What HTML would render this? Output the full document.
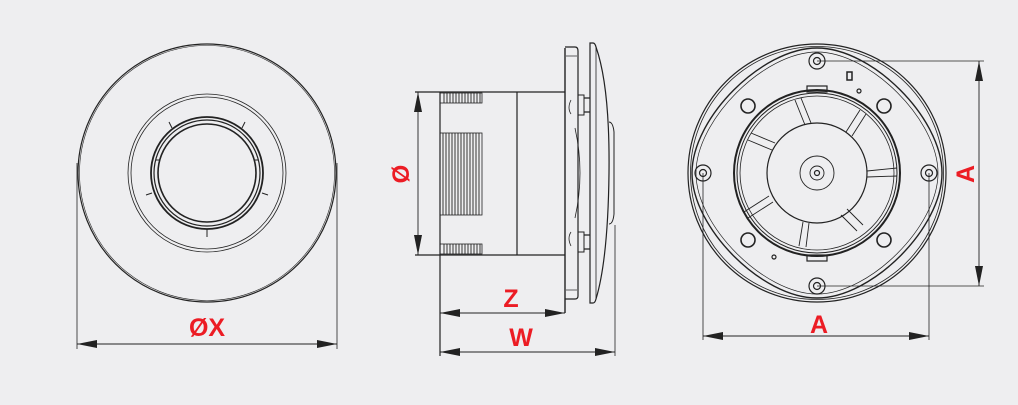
<!DOCTYPE html>
<html><head><meta charset="utf-8"><style>
html,body{margin:0;padding:0;background:#eeeef0;}
svg{display:block}
text{font-family:"Liberation Sans",Arial,sans-serif;font-weight:bold;fill:#ec1c24;}
</style></head><body>
<svg width="1018" height="405" viewBox="0 0 1018 405" xmlns="http://www.w3.org/2000/svg">
<defs>
<marker id="ar" viewBox="0 0 20 8" refX="20" refY="4" markerWidth="20" markerHeight="8" markerUnits="userSpaceOnUse" orient="auto-start-reverse"><path d="M0,0 L20,4 L0,8 Z" fill="#222"/></marker>
</defs>
<rect width="1018" height="405" fill="#eeeef0"/>
<g fill="none" stroke="#222" stroke-width="1.2">
<!-- View 1 -->
<circle cx="207" cy="173" r="129"/>
<circle cx="207" cy="173" r="127.5" stroke-width="0.6"/>
<circle cx="207" cy="173" r="79" stroke-width="0.8"/>
<circle cx="207" cy="173" r="76" stroke-width="0.8"/>
<circle cx="207" cy="173" r="56" stroke-width="1.8"/>
<circle cx="207" cy="173" r="53"/>
<circle cx="207" cy="173" r="49" stroke-width="1.6"/>
<path d="M172,128 l-3,-6 M242,128 l3,-6 M152,193 l-6,2 M262,193 l6,2 M207,229 v8 M160,160 h-4 M254,160 h4" stroke-width="1"/>
<line x1="77" y1="163" x2="77" y2="349" stroke-width="0.8"/>
<line x1="337" y1="163" x2="337" y2="349" stroke-width="0.8"/>
<line x1="77" y1="344" x2="337" y2="344" marker-start="url(#ar)" marker-end="url(#ar)" stroke-width="0.9"/>

<!-- View 2 -->
<line x1="415" y1="92" x2="565" y2="92"/>
<line x1="415" y1="255" x2="565" y2="255"/>
<line x1="418" y1="92" x2="418" y2="255" marker-start="url(#ar)" marker-end="url(#ar)" stroke-width="0.9"/>
<line x1="440" y1="92" x2="440" y2="356"/>
<line x1="517" y1="92" x2="517" y2="255"/>
<rect x="440" y="93" width="42" height="10" stroke-width="0.8"/>
<rect x="440" y="133" width="42" height="82" stroke-width="0.8"/>
<rect x="440" y="244" width="42" height="10" stroke-width="0.8"/>
<g stroke-width="0.9">
<path d="M444,93v10M447,93v10M450,93v10M453,93v10M456,93v10M459,93v10M462,93v10M465,93v10M468,93v10M471,93v10M474,93v10M477,93v10M480,93v10"/>
<path d="M443,133v82M446,133v82M449,133v82M452,133v82M455,133v82M458,133v82M461,133v82M464,133v82M467,133v82M470,133v82M473,133v82M476,133v82M479,133v82"/>
<path d="M444,244v10M447,244v10M450,244v10M453,244v10M456,244v10M459,244v10M462,244v10M465,244v10M468,244v10M471,244v10M474,244v10M477,244v10M480,244v10"/>
</g>
<line x1="565" y1="48" x2="565" y2="313" stroke-width="1.4"/>
<path d="M565,47 h10 q3,0 3,4 v245 q0,3 -3,3 h-10" />
<line x1="566" y1="56" x2="577" y2="56" stroke-width="0.7"/>
<line x1="566" y1="290" x2="577" y2="290" stroke-width="0.7"/>
<path d="M571,100 q-4,8 0,14 M571,246 q-4,-8 0,-14" stroke-width="0.8"/>
<path d="M578,95 h6 v20 h-6 M578,232 h6 v20 h-6" stroke-width="1"/>
<path d="M584,98 h6 M584,112 h6 M584,235 h6 M584,249 h6"/>
<path d="M575,128 q10,45 0,90" stroke-width="0.8"/>
<path d="M590,43 h3 q2,0 3,4 q14,40 13,126 q-1,86 -13,126 q-1,4 -3,4 h-3 z"/>
<line x1="596" y1="47" x2="596" y2="299" stroke-width="0.8"/>
<path d="M609,122 q4,0 5,10 v82 q-1,10 -5,10" stroke-width="1"/>
<line x1="615" y1="225" x2="615" y2="356" stroke-width="0.8"/>
<line x1="440" y1="313" x2="565" y2="313" marker-start="url(#ar)" marker-end="url(#ar)" stroke-width="0.9"/>
<line x1="440" y1="352" x2="615" y2="352" marker-start="url(#ar)" marker-end="url(#ar)" stroke-width="0.9"/>

<!-- View 3 -->
<circle cx="817" cy="173" r="129"/>
<circle cx="817" cy="173" r="126.5" stroke-width="0.8"/>
<path d="M817,48 C872,48 942,118 942,173 C942,228 872,298 817,298 C762,298 692,228 692,173 C692,118 762,48 817,48 Z" stroke-width="1.4"/>
<path d="M817,52 C870,52 938,120 938,173 C938,226 870,294 817,294 C764,294 696,226 696,173 C696,120 764,52 817,52 Z" stroke-width="0.7"/>
<circle cx="817" cy="61" r="8"/><circle cx="817" cy="61" r="3.5"/>
<circle cx="817" cy="286" r="8"/><circle cx="817" cy="286" r="3.5"/>
<circle cx="703" cy="173" r="8"/><circle cx="703" cy="173" r="3.5"/>
<circle cx="929" cy="173" r="8"/><circle cx="929" cy="173" r="3.5"/>
<g stroke-width="1.6">
<circle cx="748" cy="106" r="7"/><circle cx="884" cy="106" r="7"/>
<circle cx="748" cy="240" r="7"/><circle cx="884" cy="240" r="7"/>
</g>
<circle cx="817" cy="173" r="83" stroke-width="2"/>
<circle cx="817" cy="173" r="80" stroke-width="1"/>
<circle cx="817" cy="173" r="77" stroke-width="0.8"/>
<circle cx="817" cy="173" r="50"/>
<circle cx="817" cy="173" r="17" stroke-width="0.9"/>
<circle cx="817" cy="173" r="7" stroke-width="0.9"/>
<circle cx="817" cy="173" r="2.5"/>
<rect x="807" y="86" width="20" height="6"/>
<rect x="807" y="255" width="20" height="6"/>
<rect x="847" y="72" width="5" height="8" stroke-width="1.5"/>
<circle cx="859" cy="91" r="2"/><circle cx="774" cy="257" r="2"/>
<g stroke-width="0.9">
<path d="M795,100 l10,25 M801,98 l10,25"/>
<path d="M860,110 l-14,22 M866,114 l-14,22"/>
<path d="M897,168 l-30,3 M897,176 l-30,1"/>
<path d="M863,225 l-16,-16 M857,231 l-16,-16"/>
<path d="M799,246 l4,-24 M806,247 l3,-24"/>
<path d="M748,218 l25,-16 M744,212 l25,-16"/>
<path d="M748,140 l24,10 M751,133 l24,10"/>
</g>
<line x1="817" y1="61" x2="984" y2="61" stroke-width="0.8"/>
<line x1="817" y1="286" x2="984" y2="286" stroke-width="0.8"/>
<line x1="979" y1="61" x2="979" y2="286" marker-start="url(#ar)" marker-end="url(#ar)" stroke-width="0.9"/>
<line x1="703" y1="173" x2="703" y2="340" stroke-width="0.8"/>
<line x1="929" y1="173" x2="929" y2="340" stroke-width="0.8"/>
<line x1="703" y1="336" x2="929" y2="336" marker-start="url(#ar)" marker-end="url(#ar)" stroke-width="0.9"/>
</g>
<text x="207" y="336" font-size="25" text-anchor="middle">ØX</text>
<text transform="translate(409,174) rotate(-90)" font-size="24" text-anchor="middle">Ø</text>
<text x="511" y="307" font-size="25" text-anchor="middle">Z</text>
<text x="521" y="346" font-size="25" text-anchor="middle">W</text>
<text x="819" y="333" font-size="25" text-anchor="middle">A</text>
<text transform="translate(974,174) rotate(-90)" font-size="25" text-anchor="middle">A</text>
</svg>
</body></html>
